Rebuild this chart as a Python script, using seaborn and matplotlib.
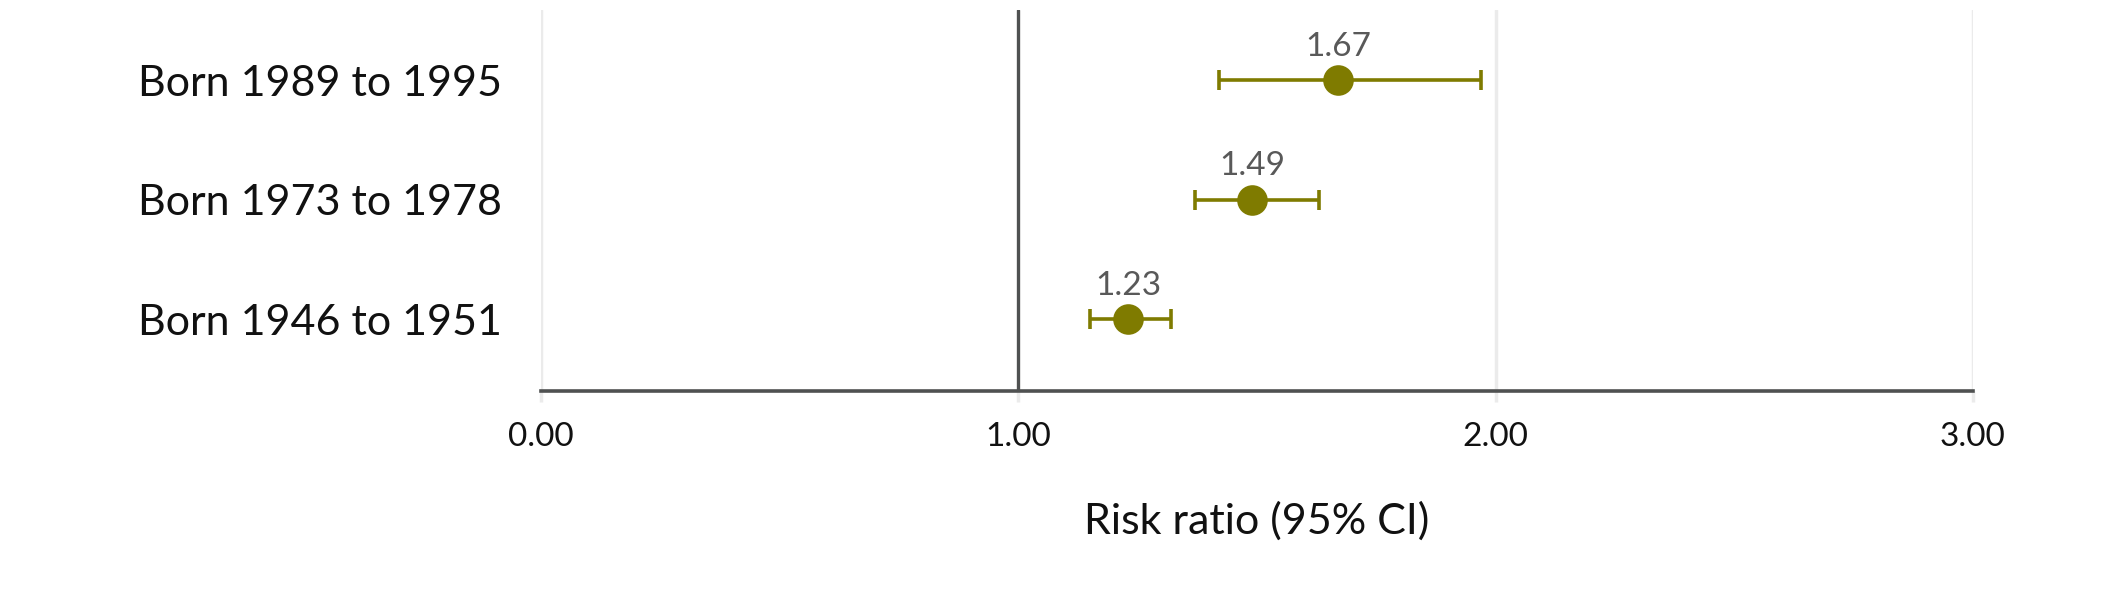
import numpy as np
import pandas as pd
import matplotlib
matplotlib.use("Agg")
import matplotlib.pyplot as plt
import seaborn as sns

# Data (top to bottom)
cohorts = ["Born 1989 to 1995", "Born 1973 to 1978", "Born 1946 to 1951"]
risk_ratio = [1.67, 1.49, 1.23]
ci_low = [1.42, 1.37, 1.15]
ci_high = [1.97, 1.63, 1.32]
x_ticks = [0, 1, 2, 3]

olive = "#7f7b00"
dark = "#4f5151"
grid = "#ebebeb"

sns.set_theme(style="white")
plt.rcParams["font.family"] = ["Lato", "DejaVu Sans"]

df = pd.DataFrame({"cohort": cohorts, "rr": risk_ratio, "lo": ci_low, "hi": ci_high})

fig = plt.figure(figsize=(21.26, 5.97), dpi=100)
ax = fig.add_axes([0.2545, 0.345, 0.928 - 0.2545, 0.983 - 0.345])

# light vertical gridlines + reference line at 1
for t in x_ticks:
    if t == 1:
        continue
    ax.axvline(t, color=grid, lw=2.5, zorder=0)
ax.axvline(1, color=dark, lw=2.4, zorder=1)

# confidence intervals
ypos = np.arange(len(df))
ax.errorbar(df["rr"], ypos,
            xerr=[df["rr"] - df["lo"], df["hi"] - df["rr"]],
            fmt="none", ecolor=olive, elinewidth=2.6, capsize=7, capthick=2.6, zorder=2)

# point estimates
sns.pointplot(data=df, x="rr", y="cohort", order=cohorts, color=olive,
              linestyle="none", errorbar=None, markersize=20, ax=ax, zorder=3)

# value labels
for i, row in df.iterrows():
    ax.annotate(f"{row['rr']:.2f}", (row["rr"], i), xytext=(0, 24),
                textcoords="offset points", ha="center", va="center",
                fontsize=24, color="#595959")

ax.set_xlim(0, 3)
ax.set_ylim(2.60, -0.586)
ax.set_xticks(x_ticks)
ax.set_xticklabels([f"{t:.2f}" for t in x_ticks])
ax.set_xlabel("Risk ratio (95% CI)", fontsize=31, labelpad=36, color="#111111")
ax.set_ylabel("")

sns.despine(ax=ax, left=True, top=True, right=True)
ax.spines["bottom"].set_color(dark)
ax.spines["bottom"].set_linewidth(2.6)
ax.spines["bottom"].set_zorder(1.5)

ax.tick_params(axis="x", which="both", bottom=True, length=8, width=2.5,
               color=grid, labelsize=24, pad=14, labelcolor="#111111")
ax.xaxis.get_major_ticks()[1].tick1line.set_color(dark)
ax.tick_params(axis="y", length=0, labelsize=31, pad=28, labelcolor="#111111")

fig.savefig("out.png", dpi=100, facecolor="white")
